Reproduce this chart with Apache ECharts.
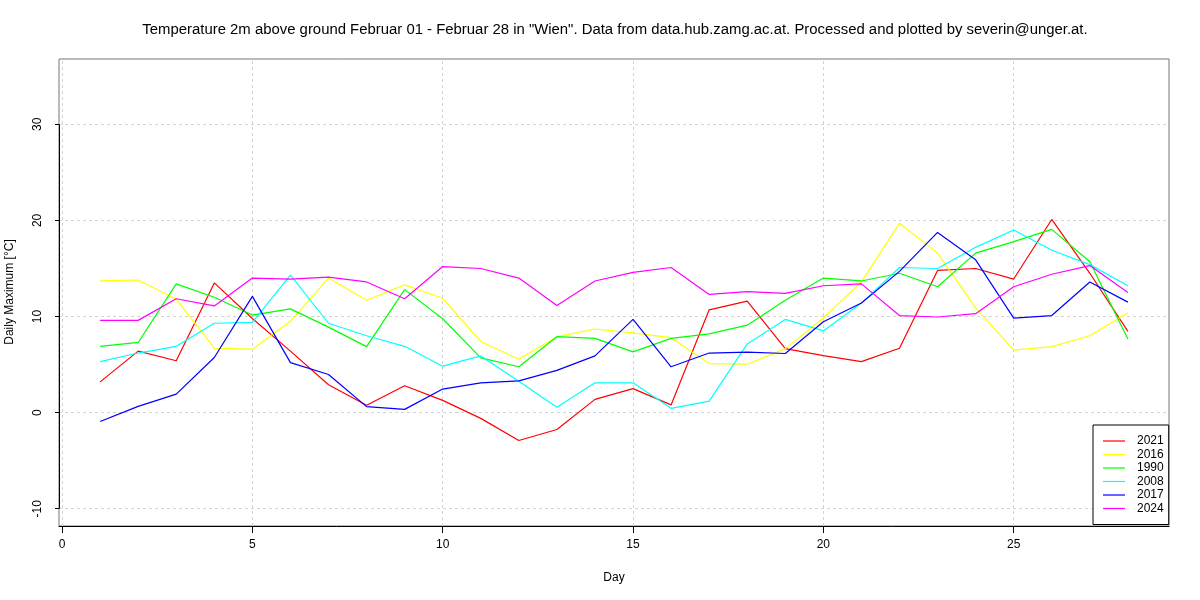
<!DOCTYPE html>
<html>
<head>
<meta charset="utf-8">
<script src="https://cdn.jsdelivr.net/npm/echarts@6/dist/echarts.min.js"></script>
<style>
html,body{margin:0;padding:0;background:#fff;}
#chart{width:1200px;height:600px;}
</style>
</head>
<body>
<div id="chart"></div>
<script>
// ---- data ----
var days = [1,2,3,4,5,6,7,8,9,10,11,12,13,14,15,16,17,18,19,20,21,22,23,24,25,26,27,28];
var seriesNames = ['2021','2016','1990','2008','2017','2024'];
var seriesColors = ['#FF0000','#FFFF00','#00FF00','#00FFFF','#0000FF','#FF00FF'];
var y2021 = [3.2,6.4,5.4,13.5,9.8,6.4,2.9,0.76,2.8,1.27,-0.6,-2.9,-1.76,1.38,2.5,0.8,10.7,11.6,6.66,5.94,5.3,6.7,14.8,15.0,13.9,20.1,14.5,8.46];
var y2016 = [13.7,13.8,11.8,6.7,6.6,9.5,14.0,11.7,13.3,11.9,7.4,5.55,7.9,8.7,8.3,7.8,5.1,5.04,6.66,9.84,13.6,19.7,16.6,10.9,6.5,6.87,8.0,10.4];
var y1990 = [6.9,7.3,13.4,12.0,10.15,10.8,8.9,6.87,12.8,9.77,5.7,4.77,7.9,7.73,6.32,7.73,8.19,9.1,11.7,14.0,13.7,14.5,13.1,16.6,17.8,19.07,15.7,7.67];
var y2008 = [5.3,6.2,6.9,9.3,9.4,14.3,9.3,8.0,6.9,4.83,5.9,3.27,0.55,3.1,3.1,0.45,1.2,7.15,9.7,8.5,11.4,15.1,15.0,17.2,19.0,16.9,15.4,13.2];
var y2017 = [-0.93,0.65,1.93,5.73,12.1,5.2,3.97,0.62,0.34,2.45,3.1,3.3,4.4,5.9,9.7,4.77,6.2,6.3,6.15,9.46,11.4,14.7,18.75,15.9,9.84,10.1,13.6,11.5];
var y2024 = [9.6,9.6,11.85,11.1,14.0,13.9,14.1,13.6,11.85,15.2,15.0,14.0,11.15,13.7,14.6,15.1,12.3,12.6,12.4,13.2,13.4,10.1,9.95,10.3,13.1,14.4,15.3,12.5];
var xTicks = [0,5,10,15,20,25];
var yTicks = [-10,0,10,20,30];
var xRange = [-0.08, 29.08];
var yRange = [-11.8, 36.8];
var titleText = 'Temperature 2m above ground Februar 01 - Februar 28 in "Wien". Data from data.hub.zamg.ac.at. Processed and plotted by severin@unger.at.';
var xName = 'Day';
var yName = 'Daily Maximum [°C]';

var valueSets = [y2021,y2016,y1990,y2008,y2017,y2024];

var FONT = '"Liberation Sans", Arial, Helvetica, sans-serif';

var chart = echarts.init(document.getElementById('chart'), null, {renderer:'canvas'});

var series = seriesNames.map(function(name, i){
  return {
    name: name,
    type: 'line',
    data: days.map(function(d, k){ return [d, valueSets[i][k]]; }),
    symbol: 'none',
    lineStyle: {color: seriesColors[i], width: 1.2},
    itemStyle: {color: seriesColors[i]},
    silent: true,
    z: 5
  };
});

// grid lines and left axis segment drawn as markLines through the axes
var gridLines = [];
xTicks.forEach(function(v){ gridLines.push({xAxis: v}); });
yTicks.forEach(function(v){ gridLines.push({yAxis: v}); });
series.push({
  name: '_grid',
  type: 'line',
  data: [],
  silent: true,
  z: 1,
  markLine: {
    silent: true,
    symbol: 'none',
    label: {show: false},
    lineStyle: {color: '#d3d3d3', type: [3,3], width: 1},
    data: gridLines,
    animation: false
  }
});
series.push({
  name: '_axis',
  type: 'line',
  data: [],
  silent: true,
  z: 6,
  markLine: {
    silent: true,
    symbol: 'none',
    label: {show: false},
    lineStyle: {color: '#000', type: 'solid', width: 1},
    data: [[{coord: [xRange[0], yTicks[0]]}, {coord: [xRange[0], yTicks[yTicks.length-1]]}]],
    animation: false
  }
});

var option = {
  animation: false,
  backgroundColor: '#fff',
  textStyle: {fontFamily: FONT},
  grid: {left: 59, right: 31, top: 59, bottom: 74, show: true, borderColor: '#777', borderWidth: 1, backgroundColor: 'transparent'},
  xAxis: {
    type: 'value', min: xRange[0], max: xRange[1],
    axisLine: {show: true, onZero: false, lineStyle: {color: '#000', width: 1}},
    axisTick: {show: true, customValues: xTicks, length: 7, lineStyle: {color: '#000'}},
    axisLabel: {show: true, customValues: xTicks, margin: 13, color: '#000', fontSize: 12, fontFamily: FONT},
    splitLine: {show: false}
  },
  yAxis: {
    type: 'value', min: yRange[0], max: yRange[1],
    axisLine: {show: false},
    axisTick: {show: true, customValues: yTicks, length: 7, lineStyle: {color: '#000'}},
    axisLabel: {show: true, customValues: yTicks, rotate: 90, margin: 15, color: '#000', fontSize: 12, fontFamily: FONT},
    splitLine: {show: false}
  },
  legend: {
    data: seriesNames,
    orient: 'vertical',
    left: 1093, top: 425,
    backgroundColor: '#fff',
    borderColor: '#000', borderWidth: 1, borderRadius: 0,
    padding: [10, 5, 10, 10],
    itemWidth: 22, itemHeight: 1.2,
    itemGap: 1.5,
    icon: 'rect',
    selectedMode: false,
    textStyle: {color: '#000', fontSize: 12, fontFamily: FONT, lineHeight: 12, padding: [0,0,0,7]},
    z: 10
  },
  graphic: [
    {type: 'text', x: 615, y: 30, style: {text: titleText, font: '14.9px ' + FONT, fill: '#000', align: 'center', verticalAlign: 'middle'}},
    {type: 'text', x: 614, y: 578, style: {text: xName, font: '12px ' + FONT, fill: '#000', align: 'center', verticalAlign: 'middle'}},
    {type: 'text', x: 10, y: 292, rotation: Math.PI/2, style: {text: yName, font: '12px ' + FONT, fill: '#000', align: 'center', verticalAlign: 'middle'}}
  ],
  series: series
};
chart.setOption(option);
</script>
</body>
</html>
